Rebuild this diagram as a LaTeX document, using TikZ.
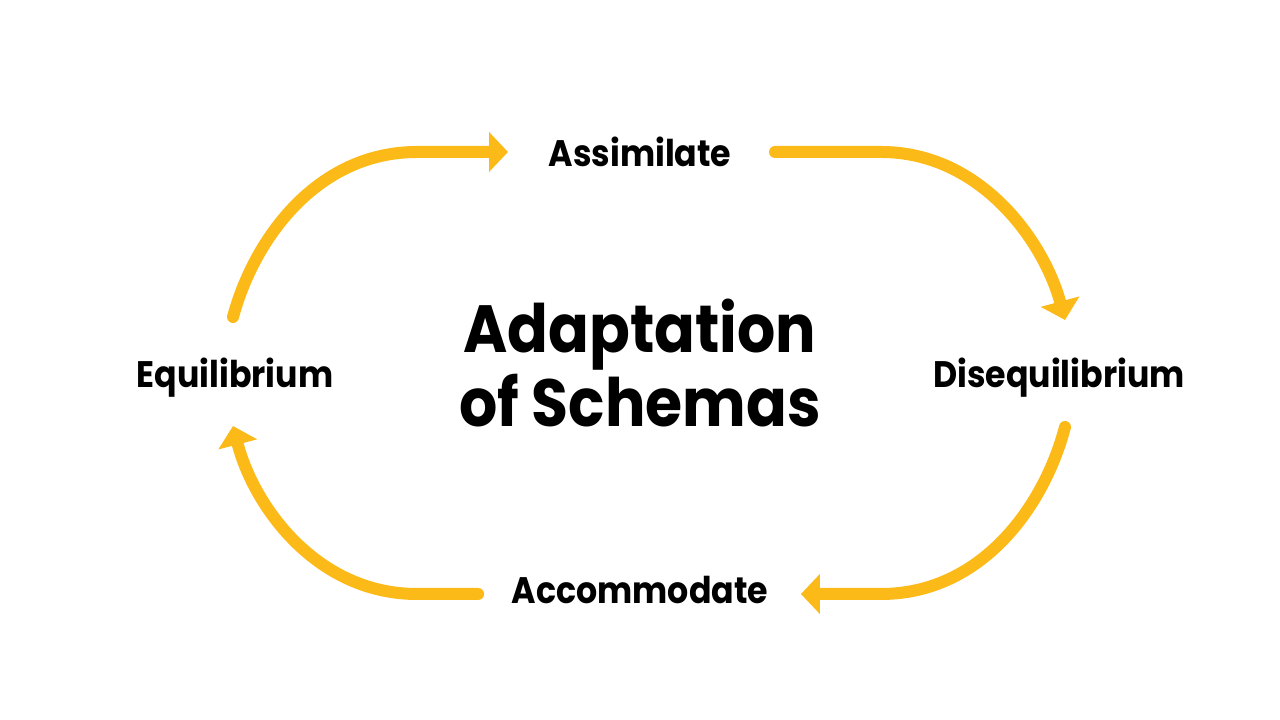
\documentclass[tikz,border=0pt]{standalone}
\usepackage{fontspec}
\setmainfont{Poppins}[FakeStretch=0.9]
\usetikzlibrary{arrows.meta}
\definecolor{cycleyellow}{RGB}{252,186,25}

\begin{document}
\begin{tikzpicture}[
		stage/.style={font=\bfseries\fontsize{10.5}{12}\selectfont, inner sep=0pt},
		title/.style={font=\bfseries\fontsize{19}{18.7}\selectfont, align=center, inner sep=0pt},
		flow/.style={draw=cycleyellow, line width=0.12cm, line cap=round,
			-{Triangle[length=0.19cm, width=0.39cm]}}
		]
		
		% Page size
		\useasboundingbox (0,0) rectangle (12.8,7.2);
		
		% Draw the title in the middle
		\node[title] (title) at (6.40,3.57) {Adaptation\\of Schemas};
		
		% Draw the four stages
		\node[stage] (assim) at (6.40,5.68) {Assimilate};
		\node[stage, anchor=base] (diseq) at (10.59,3.32) {Disequilibrium};
		\node[stage] (accom) at (6.40,1.30) {Accommodate};
		\node[stage, anchor=base] (equil) at (2.35,3.32) {Equilibrium};
		
		% Arrow ends
		\coordinate (equilout) at ([xshift=-0.02cm, yshift=0.71cm]equil.base);
		\coordinate (assimin) at ([xshift=-0.40cm]assim.west);
		\coordinate (assimout) at ([xshift=0.43cm]assim.east);
		\coordinate (diseqin) at ([xshift=0.06cm, yshift=0.68cm]diseq.base);
		\coordinate (diseqout) at ([xshift=0.06cm, yshift=-0.39cm]diseq.base);
		\coordinate (accomin) at ([xshift=0.32cm, yshift=-0.04cm]accom.east);
		\coordinate (accomout) at ([xshift=-0.33cm, yshift=-0.04cm]accom.west);
		\coordinate (equilin) at ([xshift=-0.02cm, yshift=-0.38cm]equil.base);
		
		% Draw the cycle
		\draw[flow] (equilout) .. controls +(0.21,0.78) and (3.17,5.68) .. (4.17,5.68) -- (assimin);
		\draw[flow] (assimout) -- (8.81,5.68) .. controls (9.81,5.68) and +(-0.21,0.78) .. (diseqin);
		\draw[flow] (diseqout) .. controls +(-0.21,-0.80) and (9.81,1.26) .. (8.81,1.26) -- (accomin);
		\draw[flow] (accomout) -- (4.17,1.26) .. controls (3.17,1.26) and +(0.21,-0.81) .. (equilin);
		
	\end{tikzpicture}
\end{document}
